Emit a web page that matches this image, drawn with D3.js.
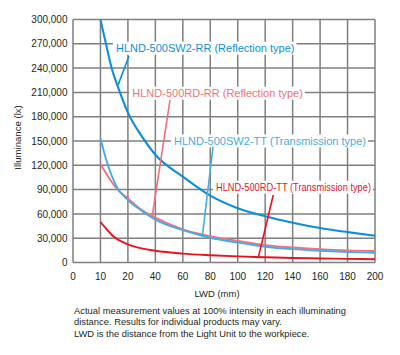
<!DOCTYPE html>
<html>
<head>
<meta charset="utf-8">
<script src="https://cdn.jsdelivr.net/npm/d3@7"></script>
<style>
  html, body { margin: 0; padding: 0; background: #fff; }
  svg { display: block; font-family: "Liberation Sans", Arial, sans-serif; }
</style>
</head>
<body>
<svg id="chart" width="400" height="355"></svg>
<script>
// ---- data ----
const xTicks = [0, 10, 20, 40, 60, 80, 100, 120, 140, 160, 180, 200];
const yTicks = [0, 30000, 60000, 90000, 120000, 150000, 180000, 210000, 240000, 270000, 300000];

const sw2rrLwd = [10, 12, 14, 17, 20, 30, 40, 60, 80, 100, 120, 140, 160, 180, 200];
const sw2rrLux = [300000, 270000, 241000, 211000, 185000, 156000, 133000, 106000, 82500, 67000, 57000, 49000, 42500, 37500, 33000];

const rdrrLwd = [10, 13, 16, 20, 30, 40, 60, 80, 100, 120, 140, 160, 180, 200];
const rdrrLux = [121500, 105000, 91000, 79000, 65000, 55500, 41000, 32500, 26500, 21500, 18500, 16500, 15000, 14200];

const sw2ttLwd = [10, 12, 14, 16, 20, 30, 40, 60, 80, 100, 120, 140, 160, 180, 200];
const sw2ttLux = [153000, 128000, 108000, 93000, 77000, 64000, 53000, 40000, 30500, 24500, 19500, 16500, 14500, 13000, 12000];

const rdttLwd = [10, 12, 15, 20, 30, 40, 60, 80, 100, 120, 140, 160, 180, 200];
const rdttLux = [50000, 42000, 31500, 22500, 17500, 14500, 11000, 9000, 7500, 6500, 5500, 5000, 4500, 4000];

const seriesNames = [
  "HLND-500SW2-RR (Reflection type)",
  "HLND-500RD-RR (Reflection type)",
  "HLND-500SW2-TT (Transmission type)",
  "HLND-500RD-TT (Transmission type)"
];
// leader-line anchor points on each curve (LWD mm, lux)
const anchorLwd = [16.4, 37.6, 74.2, 115];
const anchorLux = [219000, 56000, 31900, 6400];

const footnotes = [
  "Actual measurement values at 100% intensity in each illuminating",
  "distance. Results for individual products may vary.",
  "LWD is the distance from the Light Unit to the workpiece."
];

// ---- layout ----
const pLeft = 73, pRight = 375, pTop = 19.5, pBottom = 262.5;
const step = (pRight - pLeft) / (xTicks.length - 1);
const x = d3.scaleLinear().domain(xTicks).range(xTicks.map((d, i) => pLeft + i * step));
const y = d3.scaleLinear().domain([0, 300000]).range([pBottom, pTop]);

const svg = d3.select("#chart");
const gridColor = "#7f7f7f";
const textColor = "#231f20";

// grid
const grid = svg.append("g");
grid.selectAll("line.v").data(xTicks).join("line").attr("class", "v")
  .attr("x1", d => x(d)).attr("x2", d => x(d))
  .attr("y1", pTop).attr("y2", pBottom)
  .attr("stroke", gridColor).attr("stroke-width", 1.5);
grid.selectAll("line.h").data(yTicks).join("line").attr("class", "h")
  .attr("x1", pLeft).attr("x2", pRight)
  .attr("y1", d => y(d)).attr("y2", d => y(d))
  .attr("stroke", gridColor).attr("stroke-width", 1.5);

// y tick labels
svg.append("g").selectAll("text").data(yTicks).join("text")
  .attr("x", 67.5).attr("y", d => y(d) + 3.6)
  .attr("text-anchor", "end")
  .attr("font-size", 10).attr("fill", textColor)
  .text(d => d3.format(",")(d));

// x tick labels
svg.append("g").selectAll("text").data(xTicks).join("text")
  .attr("x", d => x(d)).attr("y", 279.5)
  .attr("text-anchor", "middle")
  .attr("font-size", 10).attr("fill", textColor)
  .text(d => d);

// axis titles
svg.append("text")
  .attr("transform", "translate(20.8,137.5) rotate(-90)")
  .attr("text-anchor", "middle")
  .attr("font-size", 9.6).attr("fill", textColor)
  .text("Illuminance (lx)");
svg.append("text")
  .attr("x", 217).attr("y", 296.5)
  .attr("text-anchor", "middle")
  .attr("font-size", 9.5).attr("fill", textColor)
  .text("LWD (mm)");

// footnote
svg.append("g").selectAll("text").data(footnotes).join("text")
  .attr("x", 74).attr("y", (d, i) => 314 + i * 11.3)
  .attr("font-size", 9.4).attr("fill", textColor)
  .text(d => d);

// series
const colors = ["#0a8fdb", "#f0707a", "#42ade4", "#e6141e"];
const series = [
  sw2rrLwd.map((v, i) => [v, sw2rrLux[i]]),
  rdrrLwd.map((v, i) => [v, rdrrLux[i]]),
  sw2ttLwd.map((v, i) => [v, sw2ttLux[i]]),
  rdttLwd.map((v, i) => [v, rdttLux[i]])
];

// label layout (pixels)
const labelX = [116, 132.3, 174, 216];
const labelY = [51.7, 96.7, 144.5, 190.7];
const labelW = [null, null, null, 155];
const leaderTop = [[129, 56], [170, 100], [213, 147], [273.3, 195]];

const boxes = svg.append("g");
const curves = svg.append("g");
const labels = svg.append("g");

const texts = seriesNames.map((name, i) => {
  const t = labels.append("text")
    .attr("x", labelX[i]).attr("y", labelY[i])
    .attr("font-size", 11).attr("fill", colors[i])
    .text(name);
  if (labelW[i]) t.attr("textLength", labelW[i]).attr("lengthAdjust", "spacingAndGlyphs");
  return t;
});
texts.forEach((t, i) => {
  const bb = t.node().getBBox();
  boxes.append("rect")
    .attr("x", bb.x - 3).attr("y", labelY[i] - 10)
    .attr("width", bb.width + 5).attr("height", 13)
    .attr("fill", "#fff");
});

const line = d3.line().x(d => x(d[0])).y(d => y(d[1])).curve(d3.curveMonotoneX);
series.forEach((s, i) => {
  curves.append("path").datum(s)
    .attr("d", line)
    .attr("fill", "none")
    .attr("stroke", colors[i])
    .attr("stroke-width", i === 0 ? 2.1 : 1.9);
});

// leader lines
series.forEach((s, i) => {
  curves.append("line")
    .attr("x1", leaderTop[i][0]).attr("y1", leaderTop[i][1])
    .attr("x2", x(anchorLwd[i])).attr("y2", y(anchorLux[i]))
    .attr("stroke", colors[i]).attr("stroke-width", 1.6);
});
</script>
</body>
</html>
